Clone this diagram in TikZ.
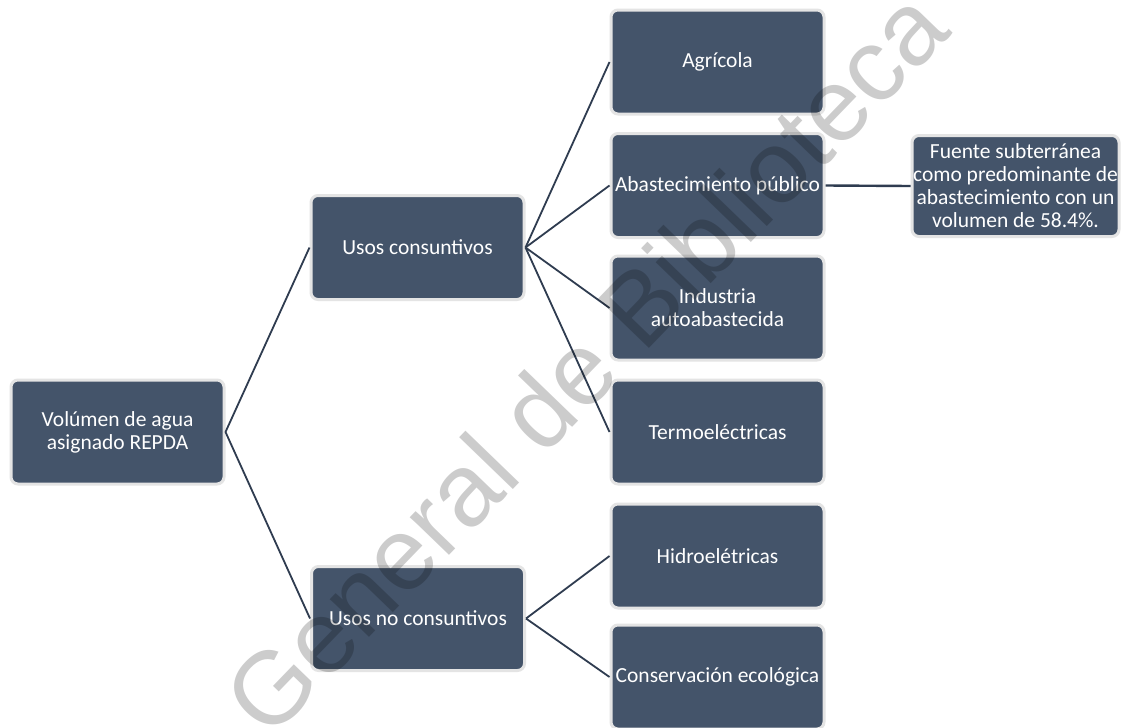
\documentclass[tikz,border=0pt]{standalone}
\usepackage{fontspec}
\setmainfont{Carlito}
\newfontfamily\wmfont{Liberation Sans}
\definecolor{boxfill}{HTML}{44546A}
\definecolor{boxline}{HTML}{E4E4E4}
\definecolor{connclr}{HTML}{2F3C50}
\begin{document}
\begin{tikzpicture}[x=1pt,y=-1pt,
  box/.style={draw=boxline, line width=3pt, fill=boxfill, rounded corners=7pt,
    text=white, font=\fontsize{21.5}{23}\selectfont, align=center,
    minimum width=213pt, minimum height=104pt, inner sep=1pt},
  link/.style={draw=connclr, line width=1.8pt},
  watermark/.style={rotate=46, opacity=0.2, text=black, inner sep=0pt,
    font=\wmfont\fontsize{103}{103}\selectfont}]
\useasboundingbox (0,0) rectangle (1127,728);
\fill[white] (0,0) rectangle (1127,728);
% nodes
\node[box] (root) at (117.5,432) {Volúmen de agua\\asignado REPDA};
\node[box] (uc) at (417.5,247.5) {Usos consuntivos};
\node[box] (unc) at (418,618.5) {Usos no consuntivos};
\node[box] (agr) at (717.5,62) {Agrícola};
\node[box] (abs) at (717.5,185.5) {Abastecimiento público};
\node[box] (ind) at (717.5,308) {Industria\\autoabastecida};
\node[box] (ter) at (717.5,432) {Termoeléctricas};
\node[box] (hid) at (717.5,556) {Hidroelétricas};
\node[box] (con) at (717.5,677) {Conservación ecológica};
\node[box, minimum width=207pt, minimum height=101pt, inner sep=0pt] (fue) at (1015.5,186)
  {Fuente subterránea\\como predominante de\\abastecimiento con un\\volumen de 58.4\%.};
% connectors
\draw[link] (root.east) -- (uc.west);
\draw[link] (root.east) -- (unc.west);
\draw[link] (uc.east) -- (agr.west);
\draw[link] (uc.east) -- (abs.west);
\draw[link] (uc.east) -- (ind.west);
\draw[link] (uc.east) -- (ter.west);
\draw[link] (unc.east) -- (hid.west);
\draw[link] (unc.east) -- (con.west);
\draw[link, line width=2.4pt] (abs.east) -- (fue.west);
% watermark
\node[watermark] (wm) at (585,362) {General de Biblioteca};
\end{tikzpicture}
\end{document}
